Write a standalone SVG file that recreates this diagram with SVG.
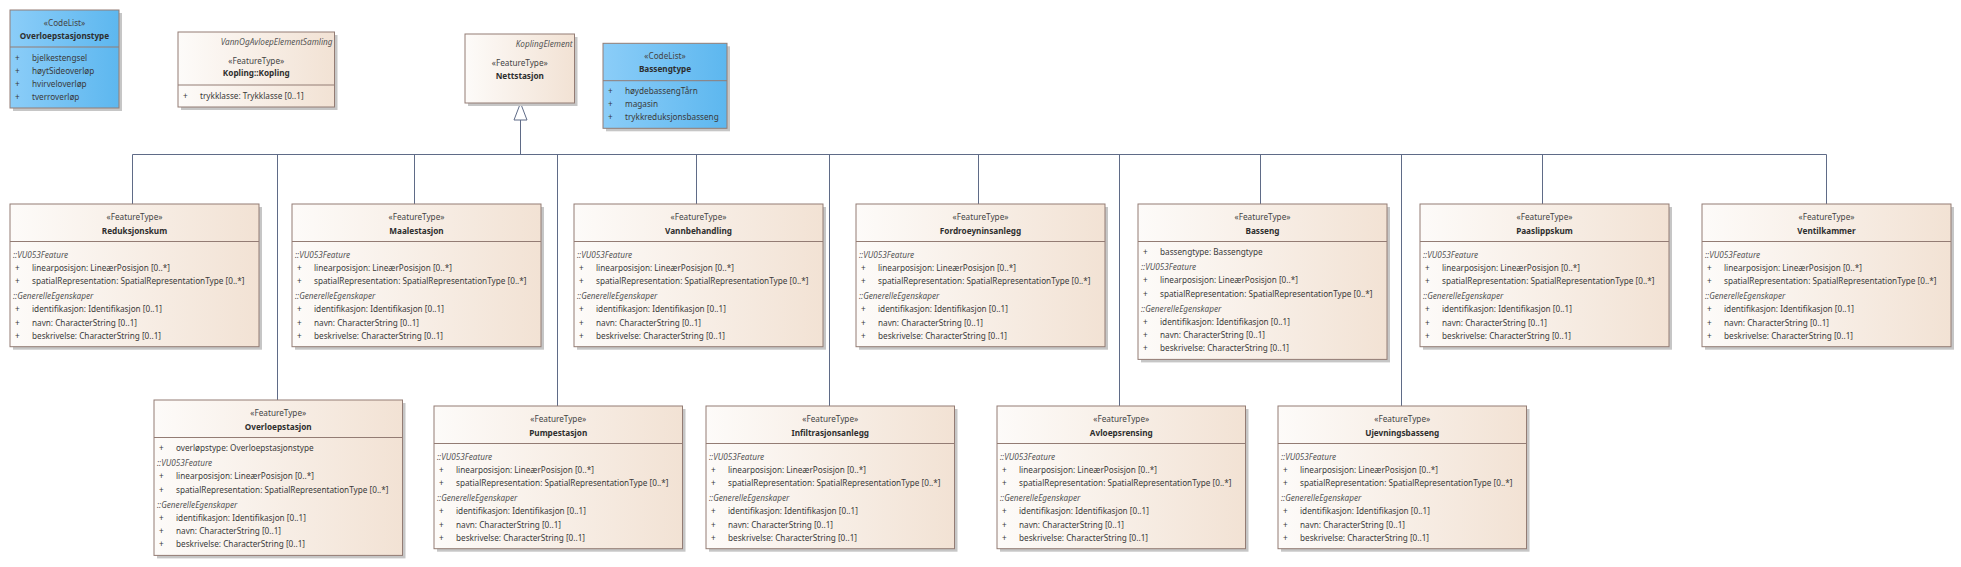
<svg xmlns="http://www.w3.org/2000/svg" width="1961" height="567" viewBox="0 0 1961 567">
<defs>
<linearGradient id="gFT" x1="0" y1="0" x2="1" y2="0">
<stop offset="0" stop-color="#fdfbf9"/>
<stop offset="1" stop-color="#f2e2d4"/>
</linearGradient>
<linearGradient id="gCL" x1="0" y1="0" x2="1" y2="0">
<stop offset="0" stop-color="#8bcdf8"/>
<stop offset="1" stop-color="#5db7ef"/>
</linearGradient>
</defs>
<style>
.ft{fill:url(#gFT);stroke:#937c74;stroke-width:1}
.cl{fill:url(#gCL);stroke:#937c74;stroke-width:1}
.sh{fill:#c6c6c6}
.sep{stroke:#937c74;stroke-width:1}
text{font-family:"Noto Sans","Open Sans","Liberation Sans",sans-serif;font-size:8.2px;fill:#3a3a3a}
.st{text-anchor:middle;fill:#444}
.nm{text-anchor:middle;font-weight:bold;fill:#2e2e2e}
.it{font-style:italic;fill:#555}
.pk{font-style:italic;text-anchor:end;fill:#555}
.conn{stroke:#5f6b87;stroke-width:1;fill:none}
.gen{fill:#ffffff;stroke:#5f6b87;stroke-width:1}
</style>

<g id="connectors">
<polygon class="gen" points="520.5,103 514,120 527,120"/>
<path class="conn" d="M520.5,120V154.5"/>
<path class="conn" d="M132.5,154.5H1826.5"/>
<path class="conn" d="M132.5,154.5V204M414.5,154.5V204M696.5,154.5V204M978.5,154.5V204M1260.5,154.5V204M1542.5,154.5V204M1826.5,154.5V204"/>
<path class="conn" d="M277.5,154.5V400M557.5,154.5V406M829.5,154.5V406M1119.5,154.5V406M1401.5,154.5V406"/>
</g>

<g id="Overloepstasjonstype" transform="translate(10,10)">
<rect class="sh" x="3" y="3" width="109" height="98"/>
<rect class="cl" width="109" height="98"/>
<line class="sep" x1="0" y1="37" x2="109" y2="37"/>
<text class="st" x="54.5" y="16.3">«CodeList»</text>
<text class="nm" x="54.5" y="28.7">Overloepstasjonstype</text>
<text x="5" y="50.5">+</text><text x="22" y="50.5">bjelkestengsel</text>
<text x="5" y="63.7">+</text><text x="22" y="63.7">høytSideoverløp</text>
<text x="5" y="76.9">+</text><text x="22" y="76.9">hvirveloverløp</text>
<text x="5" y="90.1">+</text><text x="22" y="90.1">tverroverløp</text>
</g>

<g id="Kopling" transform="translate(178,32)">
<rect class="sh" x="3" y="3" width="156.5" height="75"/>
<rect class="ft" width="156.5" height="75"/>
<line class="sep" x1="0" y1="53" x2="156.5" y2="53"/>
<text class="pk" x="154.5" y="13.3">VannOgAvloepElementSamling</text>
<text class="st" x="78.25" y="32">«FeatureType»</text>
<text class="nm" x="78.25" y="44.3">Kopling::Kopling</text>
<text x="5" y="66.5">+</text><text x="22" y="66.5">trykklasse: Trykklasse [0..1]</text>
</g>

<g id="Nettstasjon" transform="translate(465,34)">
<rect class="sh" x="3" y="3" width="109.5" height="69"/>
<rect class="ft" width="109.5" height="69"/>
<text class="pk" x="107.5" y="13">KoplingElement</text>
<text class="st" x="54.75" y="32.3">«FeatureType»</text>
<text class="nm" x="54.75" y="44.7">Nettstasjon</text>
</g>

<g id="Bassengtype" transform="translate(603,43.3)">
<rect class="sh" x="3" y="3" width="124" height="85"/>
<rect class="cl" width="124" height="85"/>
<line class="sep" x1="0" y1="37.4" x2="124" y2="37.4"/>
<text class="st" x="62" y="15.4">«CodeList»</text>
<text class="nm" x="62" y="28.7">Bassengtype</text>
<text x="5" y="50.7">+</text><text x="22" y="50.7">høydebassengTårn</text>
<text x="5" y="63.9">+</text><text x="22" y="63.9">magasin</text>
<text x="5" y="77.1">+</text><text x="22" y="77.1">trykkreduksjonsbasseng</text>
</g>

<g id="Reduksjonskum" transform="translate(10,204)">
<rect class="sh" x="3" y="3" width="249" height="142.7"/>
<rect class="ft" width="249" height="142.7"/>
<line class="sep" x1="0" y1="37.5" x2="249" y2="37.5"/>
<text class="st" x="124.5" y="16">«FeatureType»</text>
<text class="nm" x="124.5" y="29.5">Reduksjonskum</text>
<text class="it" x="3" y="53.5">::VU053Feature</text>
<text x="5" y="66.7">+</text><text x="22" y="66.7">linearposisjon: LineærPosisjon [0..*]</text>
<text x="5" y="79.9">+</text><text x="22" y="79.9">spatialRepresentation: SpatialRepresentationType [0..*]</text>
<text class="it" x="3" y="95.1">::GenerelleEgenskaper</text>
<text x="5" y="108.3">+</text><text x="22" y="108.3">identifikasjon: Identifikasjon [0..1]</text>
<text x="5" y="121.5">+</text><text x="22" y="121.5">navn: CharacterString [0..1]</text>
<text x="5" y="134.7">+</text><text x="22" y="134.7">beskrivelse: CharacterString [0..1]</text>
</g>

<g id="Maalestasjon" transform="translate(292,204)">
<rect class="sh" x="3" y="3" width="249" height="142.7"/>
<rect class="ft" width="249" height="142.7"/>
<line class="sep" x1="0" y1="37.5" x2="249" y2="37.5"/>
<text class="st" x="124.5" y="16">«FeatureType»</text>
<text class="nm" x="124.5" y="29.5">Maalestasjon</text>
<text class="it" x="3" y="53.5">::VU053Feature</text>
<text x="5" y="66.7">+</text><text x="22" y="66.7">linearposisjon: LineærPosisjon [0..*]</text>
<text x="5" y="79.9">+</text><text x="22" y="79.9">spatialRepresentation: SpatialRepresentationType [0..*]</text>
<text class="it" x="3" y="95.1">::GenerelleEgenskaper</text>
<text x="5" y="108.3">+</text><text x="22" y="108.3">identifikasjon: Identifikasjon [0..1]</text>
<text x="5" y="121.5">+</text><text x="22" y="121.5">navn: CharacterString [0..1]</text>
<text x="5" y="134.7">+</text><text x="22" y="134.7">beskrivelse: CharacterString [0..1]</text>
</g>

<g id="Vannbehandling" transform="translate(574,204)">
<rect class="sh" x="3" y="3" width="249" height="142.7"/>
<rect class="ft" width="249" height="142.7"/>
<line class="sep" x1="0" y1="37.5" x2="249" y2="37.5"/>
<text class="st" x="124.5" y="16">«FeatureType»</text>
<text class="nm" x="124.5" y="29.5">Vannbehandling</text>
<text class="it" x="3" y="53.5">::VU053Feature</text>
<text x="5" y="66.7">+</text><text x="22" y="66.7">linearposisjon: LineærPosisjon [0..*]</text>
<text x="5" y="79.9">+</text><text x="22" y="79.9">spatialRepresentation: SpatialRepresentationType [0..*]</text>
<text class="it" x="3" y="95.1">::GenerelleEgenskaper</text>
<text x="5" y="108.3">+</text><text x="22" y="108.3">identifikasjon: Identifikasjon [0..1]</text>
<text x="5" y="121.5">+</text><text x="22" y="121.5">navn: CharacterString [0..1]</text>
<text x="5" y="134.7">+</text><text x="22" y="134.7">beskrivelse: CharacterString [0..1]</text>
</g>

<g id="Fordroeyninsanlegg" transform="translate(856,204)">
<rect class="sh" x="3" y="3" width="249" height="142.7"/>
<rect class="ft" width="249" height="142.7"/>
<line class="sep" x1="0" y1="37.5" x2="249" y2="37.5"/>
<text class="st" x="124.5" y="16">«FeatureType»</text>
<text class="nm" x="124.5" y="29.5">Fordroeyninsanlegg</text>
<text class="it" x="3" y="53.5">::VU053Feature</text>
<text x="5" y="66.7">+</text><text x="22" y="66.7">linearposisjon: LineærPosisjon [0..*]</text>
<text x="5" y="79.9">+</text><text x="22" y="79.9">spatialRepresentation: SpatialRepresentationType [0..*]</text>
<text class="it" x="3" y="95.1">::GenerelleEgenskaper</text>
<text x="5" y="108.3">+</text><text x="22" y="108.3">identifikasjon: Identifikasjon [0..1]</text>
<text x="5" y="121.5">+</text><text x="22" y="121.5">navn: CharacterString [0..1]</text>
<text x="5" y="134.7">+</text><text x="22" y="134.7">beskrivelse: CharacterString [0..1]</text>
</g>

<g id="Basseng" transform="translate(1138,204)">
<rect class="sh" x="3" y="3" width="249" height="155.4"/>
<rect class="ft" width="249" height="155.4"/>
<line class="sep" x1="0" y1="37.5" x2="249" y2="37.5"/>
<text class="st" x="124.5" y="16">«FeatureType»</text>
<text class="nm" x="124.5" y="29.5">Basseng</text>
<text x="5" y="51">+</text><text x="22" y="51">bassengtype: Bassengtype</text>
<text class="it" x="3" y="66.2">::VU053Feature</text>
<text x="5" y="79.4">+</text><text x="22" y="79.4">linearposisjon: LineærPosisjon [0..*]</text>
<text x="5" y="92.6">+</text><text x="22" y="92.6">spatialRepresentation: SpatialRepresentationType [0..*]</text>
<text class="it" x="3" y="107.8">::GenerelleEgenskaper</text>
<text x="5" y="121">+</text><text x="22" y="121">identifikasjon: Identifikasjon [0..1]</text>
<text x="5" y="134.2">+</text><text x="22" y="134.2">navn: CharacterString [0..1]</text>
<text x="5" y="147.4">+</text><text x="22" y="147.4">beskrivelse: CharacterString [0..1]</text>
</g>

<g id="Paaslippskum" transform="translate(1420,204)">
<rect class="sh" x="3" y="3" width="249" height="142.7"/>
<rect class="ft" width="249" height="142.7"/>
<line class="sep" x1="0" y1="37.5" x2="249" y2="37.5"/>
<text class="st" x="124.5" y="16">«FeatureType»</text>
<text class="nm" x="124.5" y="29.5">Paaslippskum</text>
<text class="it" x="3" y="53.5">::VU053Feature</text>
<text x="5" y="66.7">+</text><text x="22" y="66.7">linearposisjon: LineærPosisjon [0..*]</text>
<text x="5" y="79.9">+</text><text x="22" y="79.9">spatialRepresentation: SpatialRepresentationType [0..*]</text>
<text class="it" x="3" y="95.1">::GenerelleEgenskaper</text>
<text x="5" y="108.3">+</text><text x="22" y="108.3">identifikasjon: Identifikasjon [0..1]</text>
<text x="5" y="121.5">+</text><text x="22" y="121.5">navn: CharacterString [0..1]</text>
<text x="5" y="134.7">+</text><text x="22" y="134.7">beskrivelse: CharacterString [0..1]</text>
</g>

<g id="Ventilkammer" transform="translate(1702,204)">
<rect class="sh" x="3" y="3" width="249" height="142.7"/>
<rect class="ft" width="249" height="142.7"/>
<line class="sep" x1="0" y1="37.5" x2="249" y2="37.5"/>
<text class="st" x="124.5" y="16">«FeatureType»</text>
<text class="nm" x="124.5" y="29.5">Ventilkammer</text>
<text class="it" x="3" y="53.5">::VU053Feature</text>
<text x="5" y="66.7">+</text><text x="22" y="66.7">linearposisjon: LineærPosisjon [0..*]</text>
<text x="5" y="79.9">+</text><text x="22" y="79.9">spatialRepresentation: SpatialRepresentationType [0..*]</text>
<text class="it" x="3" y="95.1">::GenerelleEgenskaper</text>
<text x="5" y="108.3">+</text><text x="22" y="108.3">identifikasjon: Identifikasjon [0..1]</text>
<text x="5" y="121.5">+</text><text x="22" y="121.5">navn: CharacterString [0..1]</text>
<text x="5" y="134.7">+</text><text x="22" y="134.7">beskrivelse: CharacterString [0..1]</text>
</g>

<g id="Overloepstasjon" transform="translate(154,400)">
<rect class="sh" x="3" y="3" width="248.5" height="155.4"/>
<rect class="ft" width="248.5" height="155.4"/>
<line class="sep" x1="0" y1="37.5" x2="248.5" y2="37.5"/>
<text class="st" x="124.25" y="16">«FeatureType»</text>
<text class="nm" x="124.25" y="29.5">Overloepstasjon</text>
<text x="5" y="51">+</text><text x="22" y="51">overløpstype: Overloepstasjonstype</text>
<text class="it" x="3" y="66.2">::VU053Feature</text>
<text x="5" y="79.4">+</text><text x="22" y="79.4">linearposisjon: LineærPosisjon [0..*]</text>
<text x="5" y="92.6">+</text><text x="22" y="92.6">spatialRepresentation: SpatialRepresentationType [0..*]</text>
<text class="it" x="3" y="107.8">::GenerelleEgenskaper</text>
<text x="5" y="121">+</text><text x="22" y="121">identifikasjon: Identifikasjon [0..1]</text>
<text x="5" y="134.2">+</text><text x="22" y="134.2">navn: CharacterString [0..1]</text>
<text x="5" y="147.4">+</text><text x="22" y="147.4">beskrivelse: CharacterString [0..1]</text>
</g>

<g id="Pumpestasjon" transform="translate(434,406)">
<rect class="sh" x="3" y="3" width="248.5" height="142.7"/>
<rect class="ft" width="248.5" height="142.7"/>
<line class="sep" x1="0" y1="37.5" x2="248.5" y2="37.5"/>
<text class="st" x="124.25" y="16">«FeatureType»</text>
<text class="nm" x="124.25" y="29.5">Pumpestasjon</text>
<text class="it" x="3" y="53.5">::VU053Feature</text>
<text x="5" y="66.7">+</text><text x="22" y="66.7">linearposisjon: LineærPosisjon [0..*]</text>
<text x="5" y="79.9">+</text><text x="22" y="79.9">spatialRepresentation: SpatialRepresentationType [0..*]</text>
<text class="it" x="3" y="95.1">::GenerelleEgenskaper</text>
<text x="5" y="108.3">+</text><text x="22" y="108.3">identifikasjon: Identifikasjon [0..1]</text>
<text x="5" y="121.5">+</text><text x="22" y="121.5">navn: CharacterString [0..1]</text>
<text x="5" y="134.7">+</text><text x="22" y="134.7">beskrivelse: CharacterString [0..1]</text>
</g>

<g id="Infiltrasjonsanlegg" transform="translate(706,406)">
<rect class="sh" x="3" y="3" width="248.5" height="142.7"/>
<rect class="ft" width="248.5" height="142.7"/>
<line class="sep" x1="0" y1="37.5" x2="248.5" y2="37.5"/>
<text class="st" x="124.25" y="16">«FeatureType»</text>
<text class="nm" x="124.25" y="29.5">Infiltrasjonsanlegg</text>
<text class="it" x="3" y="53.5">::VU053Feature</text>
<text x="5" y="66.7">+</text><text x="22" y="66.7">linearposisjon: LineærPosisjon [0..*]</text>
<text x="5" y="79.9">+</text><text x="22" y="79.9">spatialRepresentation: SpatialRepresentationType [0..*]</text>
<text class="it" x="3" y="95.1">::GenerelleEgenskaper</text>
<text x="5" y="108.3">+</text><text x="22" y="108.3">identifikasjon: Identifikasjon [0..1]</text>
<text x="5" y="121.5">+</text><text x="22" y="121.5">navn: CharacterString [0..1]</text>
<text x="5" y="134.7">+</text><text x="22" y="134.7">beskrivelse: CharacterString [0..1]</text>
</g>

<g id="Avloepsrensing" transform="translate(997,406)">
<rect class="sh" x="3" y="3" width="248.5" height="142.7"/>
<rect class="ft" width="248.5" height="142.7"/>
<line class="sep" x1="0" y1="37.5" x2="248.5" y2="37.5"/>
<text class="st" x="124.25" y="16">«FeatureType»</text>
<text class="nm" x="124.25" y="29.5">Avloepsrensing</text>
<text class="it" x="3" y="53.5">::VU053Feature</text>
<text x="5" y="66.7">+</text><text x="22" y="66.7">linearposisjon: LineærPosisjon [0..*]</text>
<text x="5" y="79.9">+</text><text x="22" y="79.9">spatialRepresentation: SpatialRepresentationType [0..*]</text>
<text class="it" x="3" y="95.1">::GenerelleEgenskaper</text>
<text x="5" y="108.3">+</text><text x="22" y="108.3">identifikasjon: Identifikasjon [0..1]</text>
<text x="5" y="121.5">+</text><text x="22" y="121.5">navn: CharacterString [0..1]</text>
<text x="5" y="134.7">+</text><text x="22" y="134.7">beskrivelse: CharacterString [0..1]</text>
</g>

<g id="Ujevningsbasseng" transform="translate(1278,406)">
<rect class="sh" x="3" y="3" width="248.5" height="142.7"/>
<rect class="ft" width="248.5" height="142.7"/>
<line class="sep" x1="0" y1="37.5" x2="248.5" y2="37.5"/>
<text class="st" x="124.25" y="16">«FeatureType»</text>
<text class="nm" x="124.25" y="29.5">Ujevningsbasseng</text>
<text class="it" x="3" y="53.5">::VU053Feature</text>
<text x="5" y="66.7">+</text><text x="22" y="66.7">linearposisjon: LineærPosisjon [0..*]</text>
<text x="5" y="79.9">+</text><text x="22" y="79.9">spatialRepresentation: SpatialRepresentationType [0..*]</text>
<text class="it" x="3" y="95.1">::GenerelleEgenskaper</text>
<text x="5" y="108.3">+</text><text x="22" y="108.3">identifikasjon: Identifikasjon [0..1]</text>
<text x="5" y="121.5">+</text><text x="22" y="121.5">navn: CharacterString [0..1]</text>
<text x="5" y="134.7">+</text><text x="22" y="134.7">beskrivelse: CharacterString [0..1]</text>
</g>
</svg>
